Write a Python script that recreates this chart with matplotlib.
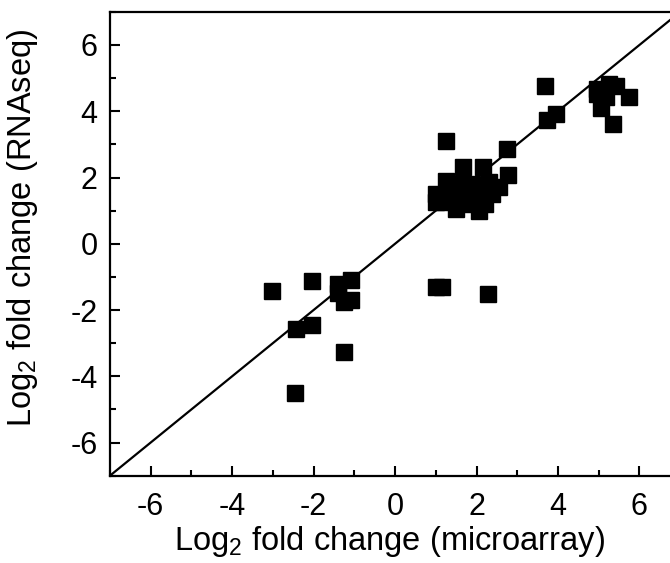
import matplotlib
matplotlib.use("Agg")
import matplotlib.pyplot as plt
from matplotlib.ticker import MultipleLocator

plt.rcParams['font.family'] = ['Liberation Sans', 'DejaVu Sans']
plt.rcParams['mathtext.fontset'] = 'custom'
plt.rcParams['mathtext.rm'] = 'Liberation Sans'
plt.rcParams['mathtext.it'] = 'Liberation Sans'
plt.rcParams['mathtext.default'] = 'regular'
plt.rcParams['axes.unicode_minus'] = False

# microarray log2 fold change (x) and RNAseq log2 fold change (y)
microarray = [
    -3.02, -2.04, -1.40, -1.08, -1.26, -1.08, -1.40, -2.42, -2.04, -1.26, -2.45,
    1.24, 2.74, 2.78, 1.68, 2.15, 1.25, 2.31, 2.56, 1.00, 1.00, 1.50, 2.07,
    1.74, 1.41, 2.07, 2.39, 1.74, 1.15, 1.90, 2.20, 1.55, 1.30,
    1.00, 1.15, 2.27,
    3.69, 3.95, 3.74, 4.97, 5.25, 5.42, 5.75, 5.05, 5.34, 4.97, 5.17,
]
rnaseq = [
    -1.41, -1.11, -1.20, -1.10, -1.76, -1.70, -1.50, -2.58, -2.46, -3.28, -4.49,
    3.11, 2.86, 2.08, 2.31, 2.31, 1.90, 1.86, 1.70, 1.50, 1.25, 1.05, 1.00,
    1.50, 1.50, 1.50, 1.50, 1.20, 1.25, 1.80, 1.20, 1.80, 1.65,
    -1.30, -1.30, -1.53,
    4.77, 3.92, 3.73, 4.67, 4.82, 4.77, 4.44, 4.11, 3.61, 4.52, 4.42,
]
x_ticks = [-6, -4, -2, 0, 2, 4, 6]
y_ticks = [-6, -4, -2, 0, 2, 4, 6]

fig = plt.figure(figsize=(6.7, 5.63), dpi=100)
ax = fig.add_axes([0.164, 0.155, 0.836, 0.824])

ax.plot([-7, 7], [-7, 7], color='black', lw=1.6, zorder=2)
ax.plot(microarray, rnaseq, linestyle='none', marker='s', ms=12,
        color='black', zorder=3)

ax.set_xlim(-7, 6.75)
ax.set_ylim(-7, 7)
ax.set_xticks(x_ticks)
ax.set_yticks(y_ticks)
ax.xaxis.set_minor_locator(MultipleLocator(1))
ax.yaxis.set_minor_locator(MultipleLocator(1))
ax.tick_params(which='major', direction='in', length=7.5, width=1.5,
               labelsize=22, pad=12)
ax.tick_params(which='major', axis='y', pad=9)
ax.tick_params(which='minor', direction='in', length=4, width=1.5)
for side in ['left', 'bottom', 'top']:
    ax.spines[side].set_linewidth(1.6)
ax.spines['right'].set_visible(False)

ax.set_xlabel(r'Log$_2$ fold change (microarray)', fontsize=23.5, labelpad=1)
ax.set_ylabel(r'Log$_2$ fold change (RNAseq)', fontsize=23.5)
ax.yaxis.set_label_coords(-0.125, 0.535)

fig.savefig('out.png', dpi=100)
